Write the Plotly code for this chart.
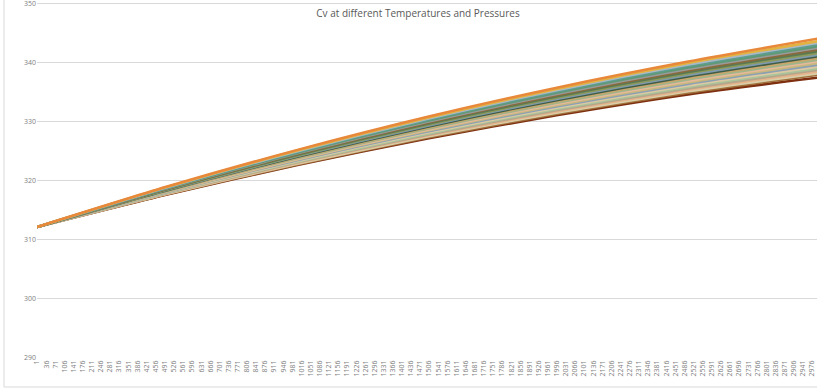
import plotly.graph_objects as go

# sample positions along the category axis (row index)
rows = [1, 500, 1000, 1500, 2000, 2500, 3000]

# Cv values, one list per temperature/pressure curve (bottom to top)
s01 = [312.2, 317.68, 322.67, 327.16, 331.15, 334.65, 337.50]
s02 = [312.2, 317.74, 322.78, 327.33, 331.36, 334.91, 337.95]
s03 = [312.2, 317.81, 322.90, 327.50, 331.57, 335.16, 338.24]
s04 = [312.2, 317.87, 323.02, 327.67, 331.79, 335.41, 338.52]
s05 = [312.2, 317.93, 323.14, 327.83, 332.00, 335.66, 338.81]
s06 = [312.2, 317.99, 323.25, 328.00, 332.21, 335.92, 339.09]
s07 = [312.2, 318.05, 323.37, 328.17, 332.43, 336.17, 339.38]
s08 = [312.2, 318.11, 323.49, 328.34, 332.64, 336.42, 339.67]
s09 = [312.2, 318.18, 323.61, 328.51, 332.85, 336.67, 339.95]
s10 = [312.2, 318.24, 323.72, 328.67, 333.06, 336.93, 340.24]
s11 = [312.2, 318.30, 323.84, 328.84, 333.28, 337.18, 340.52]
s12 = [312.2, 318.36, 323.96, 329.01, 333.49, 337.43, 340.81]
s13 = [312.2, 318.42, 324.08, 329.18, 333.70, 337.68, 341.10]
s14 = [312.2, 318.48, 324.20, 329.35, 333.92, 337.93, 341.38]
s15 = [312.2, 318.54, 324.31, 329.51, 334.13, 338.19, 341.67]
s16 = [312.2, 318.61, 324.43, 329.68, 334.34, 338.44, 341.95]
s17 = [312.2, 318.67, 324.55, 329.85, 334.55, 338.69, 342.24]
s18 = [312.2, 318.73, 324.67, 330.02, 334.77, 338.94, 342.53]
s19 = [312.2, 318.79, 324.78, 330.19, 334.98, 339.20, 342.81]
s20 = [312.2, 318.85, 324.90, 330.35, 335.19, 339.45, 343.10]
s21 = [312.2, 318.91, 325.02, 330.52, 335.41, 339.70, 343.38]
s22 = [312.2, 318.98, 325.14, 330.69, 335.62, 339.95, 343.67]
s23 = [312.2, 319.04, 325.25, 330.86, 335.83, 340.21, 344.10]

series = [s01, s02, s03, s04, s05, s06, s07, s08, s09, s10, s11, s12,
          s13, s14, s15, s16, s17, s18, s19, s20, s21, s22, s23]

colors = ["#7E2F10", "#A0703C", "#D8CFA8", "#E6B48C", "#B5A58A", "#A9C49A",
          "#DCC9A3", "#8AA0B4", "#C7B77E", "#E7B99A", "#9FB58A", "#C9A66B",
          "#3E5C46", "#7F9AAE", "#8C9A5A", "#5C7A52", "#8A6A3C", "#9A9A9A",
          "#5F9A76", "#5E9C8F", "#A9B8C6", "#E3B341", "#E8883A"]

# category labels shown every 35 rows
x_ticks = list(range(1, 2977, 35))
y_ticks = [290, 300, 310, 320, 330, 340, 350]

fig = go.Figure()
for i, (vals, col) in enumerate(zip(series, colors)):
    fig.add_trace(go.Scatter(x=rows, y=vals, mode="lines", name="Series%d" % (i + 1),
                             line=dict(color=col, width=2.5, shape="spline", smoothing=0.8)))

grid = "#D9D9D9"
fig.update_layout(
    width=817, height=389,
    margin=dict(l=37, r=0, t=2, b=31),
    paper_bgcolor="white", plot_bgcolor="white",
    showlegend=False,
    font=dict(family="Open Sans", color="#595959"),
    title=dict(text="Cv at different Temperatures and Pressures",
               x=418 / 817, y=1 - 13 / 389, xanchor="center", yanchor="middle",
               font=dict(size=10, color="#595959")),
    xaxis=dict(range=[0.5, 2994.5], tickmode="array", tickvals=x_ticks,
               ticktext=[str(t) for t in x_ticks], tickangle=-90,
               tickfont=dict(size=7, color="#7F7F7F"), showgrid=False,
               zeroline=False, showline=False, ticks=""),
    yaxis=dict(range=[290, 350.3], tickmode="array", tickvals=y_ticks,
               tickfont=dict(size=7, color="#7F7F7F"), ticklabeloverflow="allow",
               gridcolor=grid, gridwidth=1, zeroline=False, showline=False, ticks=""),
)

# chart area border (left and bottom visible in the crop)
fig.add_shape(type="line", xref="paper", yref="paper", x0=-33 / 780, x1=-33 / 780,
              y0=-29 / 356, y1=1.02, line=dict(color=grid, width=1))
fig.add_shape(type="line", xref="paper", yref="paper", x0=-33 / 780, x1=1,
              y0=-29 / 356, y1=-29 / 356, line=dict(color=grid, width=1))

# drop the default page margin so the figure sits at the window's corner
fig.write_html("out.html", config={"displayModeBar": False},
               post_script="document.body.style.margin='0px';")
